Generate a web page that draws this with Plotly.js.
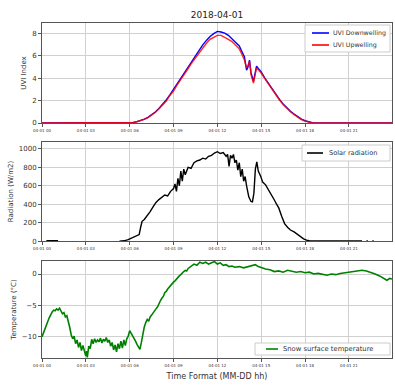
<!DOCTYPE html>
<html>
<head>
<meta charset="utf-8">
<script src="https://cdn.plot.ly/plotly-3.0.1.min.js"></script>
<style>html,body{margin:0;padding:0;background:#fff;}#chart{width:395px;height:389px;}</style>
</head>
<body>
<div id="chart"></div>
<script>
// ---- data ----
var tickHours = [0, 3, 6, 9, 12, 15, 18, 21];
var tickLabels = ["04-01 00", "04-01 03", "04-01 06", "04-01 09", "04-01 12", "04-01 15", "04-01 18", "04-01 21"];

var uviTime = [0, 6, 6.25, 6.5, 6.75, 7, 7.25, 7.5, 7.75, 8, 8.25, 8.5, 8.75, 9, 9.25, 9.5, 9.75, 10, 10.25, 10.5, 10.75, 11, 11.25, 11.5, 11.75, 12, 12.25, 12.5, 12.75, 13, 13.25, 13.5, 13.7, 13.85, 14.0, 14.1, 14.2, 14.3, 14.47, 14.58, 14.68, 14.8, 15, 15.25, 15.5, 15.75, 16, 16.25, 16.5, 16.75, 17, 17.25, 17.5, 17.75, 18, 18.25, 18.5, 18.75, 23.95];
var uviDown = [0, 0, 0.05, 0.12, 0.22, 0.35, 0.5, 0.72, 0.98, 1.3, 1.65, 2.05, 2.5, 3.0, 3.5, 4.0, 4.5, 5.0, 5.5, 6.0, 6.5, 6.95, 7.35, 7.7, 7.95, 8.15, 8.1, 8.0, 7.8, 7.5, 7.15, 6.85, 6.3, 5.9, 4.7, 5.0, 5.6, 4.5, 3.7, 4.4, 5.05, 4.85, 4.55, 4.0, 3.5, 3.0, 2.5, 2.1, 1.7, 1.35, 1.05, 0.8, 0.55, 0.35, 0.2, 0.08, 0.02, 0, 0];
var uviUp = [0, 0, 0.04, 0.11, 0.2, 0.33, 0.48, 0.68, 0.93, 1.25, 1.6, 1.95, 2.45, 2.85, 3.4, 3.85, 4.35, 4.85, 5.35, 5.8, 6.3, 6.75, 7.1, 7.45, 7.65, 7.8, 7.8, 7.65, 7.45, 7.25, 6.9, 6.6, 6.05, 5.6, 4.9, 5.1, 5.5, 4.3, 3.55, 4.3, 4.9, 4.75, 4.45, 3.95, 3.45, 2.95, 2.45, 2.05, 1.65, 1.3, 1.0, 0.75, 0.5, 0.3, 0.17, 0.06, 0.01, 0, 0];

var radTime = [0.3, 0.6, 0.9, 1.1, 1.2, 5.3, 5.6, 5.9, 6.1, 6.3, 6.5, 6.65, 6.75, 6.85, 7, 7.2, 7.4, 7.6, 7.8, 8, 8.2, 8.4, 8.6, 8.8, 9, 9.1, 9.2, 9.3, 9.4, 9.5, 9.6, 9.7, 9.8, 10, 10.2, 10.4, 10.6, 10.8, 11, 11.2, 11.4, 11.6, 11.8, 12, 12.2, 12.4, 12.6, 12.7, 12.8, 12.9, 13.0, 13.1, 13.2, 13.3, 13.4, 13.5, 13.6, 13.7, 13.8, 13.9, 14.0, 14.15, 14.3, 14.4, 14.5, 14.6, 14.7, 14.8, 14.97, 15.1, 15.3, 15.5, 15.7, 15.9, 16.05, 16.2, 16.4, 16.6, 16.8, 17, 17.25, 17.6, 17.9, 18.1, 18.3, 19, 20, 21, 21.9, 22.0, 22.2, 22.3, 22.4, 22.6, 22.7];
var radVals = [5, 6, 5, 4, null, 0, 3, 15, 30, 45, 60, 70, 150, 215, 235, 275, 320, 370, 420, 450, 480, 500, 490, 540, 570, 620, 540, 680, 600, 760, 650, 780, 720, 800, 790, 850, 870, 880, 900, 890, 920, 930, 955, 970, 950, 960, 920, 940, 810, 930, 900, 940, 850, 880, 770, 850, 700, 780, 650, 700, 600, 480, 430, 425, 520, 780, 860, 760, 700, 640, 610, 560, 500, 446, 400, 360, 270, 190, 150, 120, 100, 55, 25, 10, 3, 2, 2, 2, 2, null, 2, 2, null, 2, 2];

var tempTime = [0, 0.1, 0.2, 0.3, 0.4, 0.5, 0.6, 0.7, 0.8, 0.9, 1.0, 1.1, 1.2, 1.3, 1.4, 1.5, 1.6, 1.7, 1.8, 1.9, 2.0, 2.1, 2.2, 2.3, 2.4, 2.5, 2.6, 2.7, 2.8, 2.9, 3.0, 3.05, 3.1, 3.2, 3.3, 3.4, 3.5, 3.6, 3.7, 3.8, 3.9, 4.0, 4.1, 4.2, 4.3, 4.4, 4.5, 4.6, 4.7, 4.8, 4.9, 5.0, 5.1, 5.2, 5.3, 5.4, 5.5, 5.6, 5.7, 5.8, 5.9, 6.0, 6.1, 6.2, 6.3, 6.4, 6.5, 6.6, 6.7, 6.8, 6.9, 7.0, 7.1, 7.2, 7.3, 7.4, 7.5, 7.6, 7.7, 7.8, 7.9, 8.0, 8.1, 8.2, 8.3, 8.4, 8.5, 8.6, 8.7, 8.8, 8.9, 9.0, 9.1, 9.2, 9.3, 9.4, 9.5, 9.6, 9.7, 9.8, 9.9, 10.0, 10.2, 10.4, 10.6, 10.8, 11.0, 11.2, 11.4, 11.6, 11.8, 12.0, 12.2, 12.4, 12.6, 12.8, 13.0, 13.2, 13.5, 13.8, 14.0, 14.3, 14.6, 14.8, 15.0, 15.3, 15.6, 15.9, 16.2, 16.5, 16.8, 17.1, 17.4, 17.7, 18.0, 18.3, 18.6, 18.9, 19.2, 19.5, 19.8, 20.1, 20.4, 20.7, 21.0, 21.3, 21.6, 21.9, 22.2, 22.5, 22.8, 23.1, 23.4, 23.6, 23.8, 23.95];
var tempVals = [-10.1, -9.4, -8.9, -8.2, -7.6, -7.0, -6.5, -6.1, -5.8, -5.9, -5.6, -5.8, -5.5, -6.0, -6.4, -6.2, -6.9, -6.7, -7.5, -8.6, -9.8, -10.4, -10.0, -11.2, -10.6, -11.8, -11.0, -12.3, -11.5, -12.6, -13.2, -12.4, -13.4, -11.6, -12.0, -10.5, -11.2, -10.4, -11.0, -10.6, -10.9, -10.3, -11.1, -10.5, -10.8, -10.2, -11.0, -10.6, -11.6, -11.0, -12.2, -11.4, -12.5, -11.2, -12.0, -10.8, -11.9, -10.6, -11.5, -10.4, -10.0, -9.1, -9.5, -9.8, -10.3, -10.8, -11.3, -11.8, -12.1, -11.0, -9.6, -8.5, -7.8, -7.3, -7.6, -6.9, -6.6, -6.2, -6.0, -5.6, -5.3, -4.7, -4.3, -3.9, -3.6, -3.0, -2.8, -2.4, -2.1, -1.8, -1.6, -1.3, -1.1, -0.8, -0.5, -0.3, -0.1, 0.2, 0.4, 0.6, 0.5, 0.9, 1.2, 1.6, 1.4, 1.9, 1.7, 1.9, 1.6, 1.8, 2.0, 1.6, 1.8, 1.4, 1.5, 1.2, 1.3, 1.1, 1.2, 1.0, 1.1, 1.3, 1.5, 1.2, 1.0, 0.8, 0.7, 0.4, 0.5, 0.3, 0.6, 0.5, 0.3, 0.4, 0.2, 0.3, 0.0, 0.1, -0.1, -0.2, 0.0, -0.1, 0.1, 0.2, 0.4, 0.5, 0.6, 0.6, 0.5, 0.3, 0.0, -0.3, -0.7, -1.0, -0.7, -0.8];

var seriesNames = ["UVI Downwelling", "UVI Upwelling", "Solar radiation", "Snow surface temperature"];
var seriesColors = ["#0000ff", "#ff0000", "#000000", "#008000"];

// ---- figure ----
var lw = 1.4;
var traces = [
  {x: uviTime, y: uviDown, name: seriesNames[0], type: "scatter", mode: "lines", line: {color: seriesColors[0], width: lw}, xaxis: "x", yaxis: "y", showlegend: false},
  {x: uviTime, y: uviUp, name: seriesNames[1], type: "scatter", mode: "lines", line: {color: seriesColors[1], width: lw}, opacity: 0.85, xaxis: "x", yaxis: "y", showlegend: false},
  {x: radTime, y: radVals, name: seriesNames[2], type: "scatter", mode: "lines", line: {color: seriesColors[2], width: lw}, xaxis: "x2", yaxis: "y2", showlegend: false},
  {x: tempTime, y: tempVals, name: seriesNames[3], type: "scatter", mode: "lines", line: {color: seriesColors[3], width: 1.6}, xaxis: "x3", yaxis: "y3", showlegend: false}
];

function xax(anchor) {
  return {
    anchor: anchor, range: [0, 23.95], tickvals: tickHours, ticktext: tickLabels,
    tickfont: {size: 4, color: "#333", family: "DejaVu Sans"},
    showgrid: true, gridcolor: "#d0d0d0", gridwidth: 1, zeroline: false,
    showline: true, mirror: true, linecolor: "#555", linewidth: 1,
    ticks: "outside", ticklen: 3, tickcolor: "#555"
  };
}
function yax(domain, range, tickvals, title) {
  return {
    domain: domain, range: range, tickvals: tickvals,
    tickfont: {size: 7, color: "#333", family: "DejaVu Sans"},
    title: {text: title, font: {size: 7, color: "#333", family: "DejaVu Sans"}, standoff: 4},
    showgrid: true, gridcolor: "#d0d0d0", gridwidth: 1, zeroline: false,
    showline: true, mirror: true, linecolor: "#555", linewidth: 1,
    ticks: "outside", ticklen: 3, tickcolor: "#555"
  };
}

var x3 = xax("y3");
x3.title = {text: "Time Format (MM-DD hh)", font: {size: 8, color: "#333", family: "DejaVu Sans"}, standoff: 6};

// manual legends (pixel positions -> paper fractions of the plot area)
var L = 42, R = 392, T = 23, B = 358;
function px(v) { return (v - L) / (R - L); }
function py(v) { return (B - v) / (B - T); }
var shapes = [], annotations = [];
function legendBox(x0, x1, y0, y1) {
  shapes.push({type: "rect", xref: "paper", yref: "paper", x0: px(x0), x1: px(x1), y0: py(y1), y1: py(y0),
    fillcolor: "rgba(255,255,255,0.92)", line: {color: "#cccccc", width: 1}, layer: "above"});
}
function legendEntry(idx, lx0, lx1, tx, yy, fs) {
  shapes.push({type: "line", xref: "paper", yref: "paper", x0: px(lx0), x1: px(lx1), y0: py(yy), y1: py(yy),
    line: {color: seriesColors[idx], width: 1.6}, layer: "above"});
  annotations.push({xref: "paper", yref: "paper", x: px(tx), y: py(yy), xanchor: "left", yanchor: "middle",
    text: seriesNames[idx], showarrow: false, font: {size: fs, color: "#333", family: "DejaVu Sans"}});
}
legendBox(305, 390, 25, 52);
legendEntry(0, 312, 329, 331, 33, 6.3);
legendEntry(1, 312, 329, 331, 45, 6.3);
legendBox(302, 390, 145, 161);
legendEntry(2, 307, 323, 327, 153, 6.6);
legendBox(255, 390, 343, 355);
legendEntry(3, 266, 278, 281, 349, 6.8);

var layout = {
  width: 395, height: 389,
  margin: {l: 42, r: 3, t: 23, b: 31},
  paper_bgcolor: "#ffffff", plot_bgcolor: "#ffffff",
  title: {text: "2018-04-01", font: {size: 9, color: "#222", family: "DejaVu Sans"}, x: 0.5, xref: "paper", y: 0.962, yref: "container", yanchor: "middle"},
  xaxis: xax("y"), xaxis2: xax("y2"), xaxis3: x3,
  yaxis: yax([0.7015, 1], [0, 8.9], [0, 2, 4, 6, 8], "UVI Index"),
  yaxis2: yax([0.349, 0.645], [0, 1076], [0, 200, 400, 600, 800, 1000], "Radiation (W/m2)"),
  yaxis3: yax([0, 0.2896], [-13.5, 2.1], [-10, -5, 0], "Temperature (°C)"),
  shapes: shapes, annotations: annotations,
  showlegend: false
};

Plotly.newPlot("chart", traces, layout, {displayModeBar: false, staticPlot: true});
</script>
</body>
</html>
